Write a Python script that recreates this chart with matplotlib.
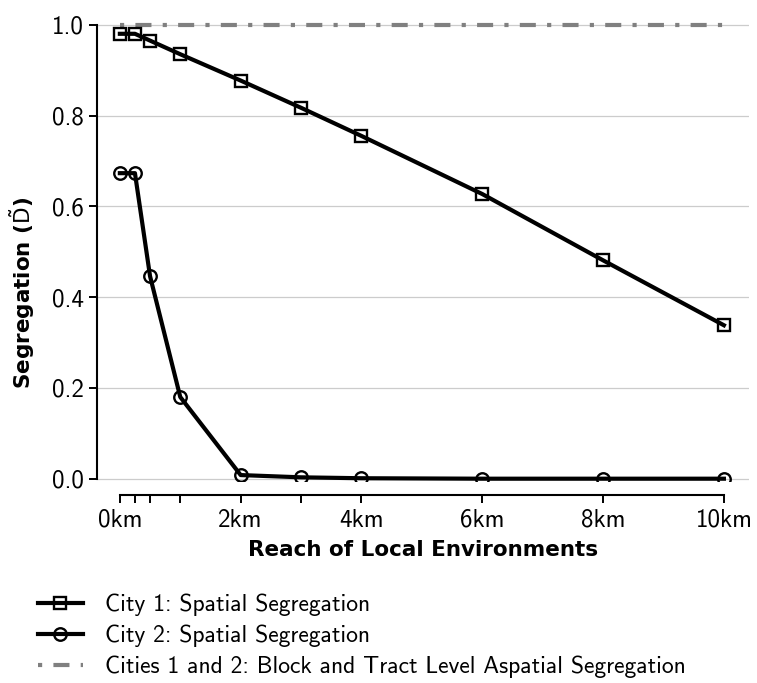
import matplotlib
matplotlib.use('Agg')
import matplotlib.pyplot as plt

plt.rcParams['font.family'] = ['cmss10', 'DejaVu Sans']
plt.rcParams['mathtext.fontset'] = 'dejavusans'
plt.rcParams['axes.unicode_minus'] = False
plt.rcParams['axes.formatter.use_mathtext'] = False

# reach of local environments (km)
reach = [0, 0.25, 0.5, 1, 2, 3, 4, 6, 8, 10]
city1 = [0.980, 0.980, 0.965, 0.935, 0.877, 0.817, 0.755, 0.627, 0.481, 0.338]
city2 = [0.673, 0.673, 0.446, 0.180, 0.008, 0.003, 0.001, 0.0, 0.0, 0.0]
aspatial = [1.0, 1.0]
tick_labels = ['0km', '', '', '', '2km', '', '4km', '6km', '8km', '10km']

fig = plt.figure(figsize=(7.57, 6.83), dpi=100)
ax = fig.add_axes([0.128, 0.2958, 0.861, 0.672])

ax.plot([reach[0], reach[-1]], aspatial, color='#808080', lw=3,
        linestyle=(0, (1.0, 2.7, 3.85, 2.7)),
        label='Cities 1 and 2: Block and Tract Level Aspatial Segregation', zorder=3)
ax.plot(reach, city1, color='black', lw=3, marker='s', markersize=9,
        markerfacecolor='none', markeredgewidth=1.7,
        label='City 1: Spatial Segregation', zorder=4)
ax.plot(reach, city2, color='black', lw=3, marker='o', markersize=9,
        markerfacecolor='none', markeredgewidth=1.7,
        label='City 2: Spatial Segregation', zorder=4)

ax.set_xlim(-0.38, 10.41)
ax.set_ylim(-0.005, 1.006)
ax.set_xticks(reach)
ax.set_xticklabels(tick_labels)
ax.set_yticks([0, 0.2, 0.4, 0.6, 0.8, 1.0])
ax.set_yticklabels(['0.0', '0.2', '0.4', '0.6', '0.8', '1.0'])
ax.tick_params(labelsize=18, length=6, width=1.4, color='black')
ax.tick_params(axis='x', pad=4)
ax.yaxis.grid(True, color='#cccccc', lw=0.9)
ax.set_axisbelow(True)

for s in ['top', 'right']:
    ax.spines[s].set_visible(False)
ax.spines['bottom'].set_position(('outward', 10))
ax.spines['bottom'].set_bounds(0, 10)
ax.spines['left'].set_bounds(0, 1)
for s in ['bottom', 'left']:
    ax.spines[s].set_linewidth(1.5)

ax.set_xlabel('Reach of Local Environments', fontsize=15.5, fontweight='bold',
              family='DejaVu Sans', labelpad=6)
ax.set_ylabel(r'Segregation ($\tilde{\mathrm{D}}$)', fontsize=15.5, fontweight='bold',
              family='DejaVu Sans')
ax.yaxis.set_label_coords(-0.092, 0.41)

handles, labels = ax.get_legend_handles_labels()
order = [1, 2, 0]
fig.legend([handles[i] for i in order], [labels[i] for i in order],
           loc='upper left', bbox_to_anchor=(38 / 757, 1 - 594 / 683),
           frameon=False, fontsize=17, handlelength=1.9, handletextpad=0.95,
           labelspacing=0.35, borderpad=0, borderaxespad=0, numpoints=1)

fig.savefig('out.png', dpi=100)
